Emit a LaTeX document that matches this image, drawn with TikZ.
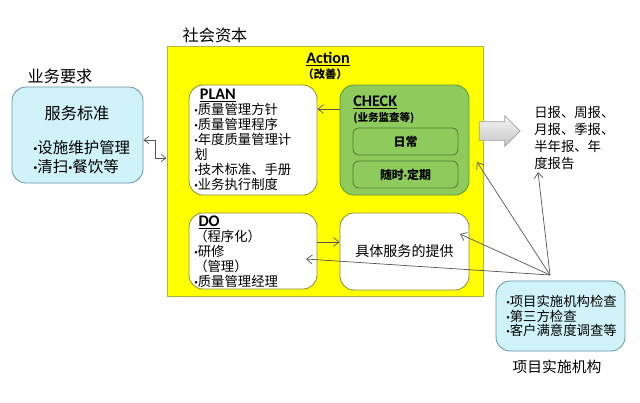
\documentclass[tikz,border=0pt]{standalone}
\usepackage{fontspec}
\setmainfont{Noto Sans CJK SC}
\newfontfamily\latinfont{Carlito}
\newcommand{\bul}{{\latinfont\bfseries ·}}
\usetikzlibrary{arrows.meta,positioning,calc,shapes.arrows}
\definecolor{capyellow}{HTML}{FFFF00}
\definecolor{capedge}{HTML}{B4B43C}
\definecolor{reqcyan}{HTML}{CFF3F8}
\definecolor{reqedge}{HTML}{6A97A6}
\definecolor{chkgreen}{HTML}{8FCB5C}
\definecolor{chkedge}{HTML}{5E9440}
\definecolor{stepedge}{HTML}{8C8C3C}
\definecolor{linegray}{HTML}{555555}

\begin{document}
\begin{tikzpicture}[
  x=0.25mm,y=-0.25mm,
  font=\fontsize{9}{11}\selectfont,
  box/.style={draw,rounded corners=3.5mm,line width=0.6pt,inner sep=0pt},
  reqbox/.style={box,fill=reqcyan,draw=reqedge},
  stepbox/.style={box,fill=white,draw=stepedge,minimum width=32mm},
  chkbox/.style={box,fill=chkgreen,draw=chkedge,minimum width=32.25mm},
  subbox/.style={box,rounded corners=1.5mm,fill=chkgreen,draw=chkedge!85!black,minimum width=26.25mm},
  heading/.style={font=\latinfont\bfseries\fontsize{11.5}{13}\selectfont},
  flow/.style={-{Straight Barb[length=1.4mm,width=2.2mm]},line width=0.5pt,draw=linegray},
  link/.style={{Straight Barb[length=1.2mm,width=1.8mm]}-{Straight Barb[length=1.2mm,width=1.8mm]},line width=0.5pt,draw=linegray}
]
  \useasboundingbox (0,0) rectangle (640,402);

  \node[font=\fontsize{11.5}{13}\selectfont] (reqttl) at (60,76) {业务要求};
  \node[reqbox,minimum width=32.75mm,minimum height=24mm] (svc) at (77.5,135) {};
  \node[font=\fontsize{11.5}{13}\selectfont] (svcttl) at (77,113) {服务标准};
  \node[anchor=west,align=left,inner sep=0pt,font=\fontsize{11}{13}\selectfont] (svcitems) at (33,157) {\bul 设施维护管理\\\bul 清扫\bul 餐饮等};

  \node[font=\fontsize{11.5}{13}\selectfont] (capttl) at (215,35) {社会资本};
  \node[draw=capedge,fill=capyellow,line width=0.7pt,minimum width=79mm,minimum height=62.5mm] (cap) at (325,171) {};
  \node[heading] (act) at (328,59) {\underline{Action}};
  \node[font=\bfseries\fontsize{8}{9}\selectfont] (actsub) at (325,74) {（改善）};

  \node[stepbox,minimum height=27.5mm] (plan) at (253,140) {};
  \node[anchor=west,align=left,inner sep=0pt,font=\fontsize{9.5}{10.7}\selectfont] (plantxt) at (194,140)
    {\hspace*{4pt}{\latinfont\bfseries\fontsize{11.5}{10.7}\selectfont\underline{PLAN}}\\\bul 质量管理方针\\\bul 质量管理程序\\\bul 年度质量管理计\\划\\\bul 技术标准、手册\\\bul 业务执行制度};

  \node[chkbox,minimum height=27.5mm] (check) at (404.5,140) {};
  \node[anchor=west,align=left,inner sep=0pt] (chktxt) at (353,110)
    {{\latinfont\bfseries\fontsize{11.5}{11.4}\selectfont\underline{CHECK}}\\{\bfseries\fontsize{7.5}{11.4}\selectfont(业务监查等)}};
  \node[subbox,minimum height=6.75mm,font=\bfseries\fontsize{8.5}{10}\selectfont] (daily) at (405.5,141.5) {日常};
  \node[subbox,minimum height=6.75mm,font=\bfseries\fontsize{8.5}{10}\selectfont] (periodic) at (405.5,174.5) {随时\bul 定期};

  \node[stepbox,minimum height=19mm] (do) at (253,251) {};
  \node[anchor=west,align=left,inner sep=0pt,font=\fontsize{9.5}{10.7}\selectfont] (dotxt) at (194,252)
    {\hspace*{3pt}{\latinfont\bfseries\fontsize{11.5}{10.7}\selectfont\underline{DO}}\\（程序化）\\\bul 研修\\（管理）\\\bul 质量管理经理};

  \node[stepbox,minimum width=32.25mm,minimum height=19.25mm,font=\fontsize{10}{12}\selectfont] (prov) at (404.5,251.5) {具体服务的提供};

  \node[single arrow,draw=gray!75,top color=gray!8,bottom color=gray!45,line width=0.5pt,
    inner xsep=0pt,inner ysep=2.25mm,single arrow head extend=1.5mm,minimum height=10.25mm] (out) at (495,131) {};
  \node[anchor=west,align=left,inner sep=0pt,font=\fontsize{9.5}{11.9}\selectfont] (reports) at (534,138)
    {日报、周报、\\月报、季报、\\半年报、年\\度报告};

  \node[reqbox,minimum width=32.25mm,minimum height=17.5mm] (insp) at (560.5,316) {};
  \node[anchor=west,align=left,inner sep=0pt,font=\fontsize{9.5}{10.4}\selectfont] (insptxt) at (506,316)
    {\bul 项目实施机构检查\\\bul 第三方检查\\\bul 客户满意度调查等};
  \node[font=\fontsize{10.5}{12}\selectfont] (inspttl) at (557,367) {项目实施机构};

  \draw[link] (svc.east |- 0,140) -- (155,140) |- (cap.west |- 0,158);
  \draw[flow] (check.west |- 0,109) -- (plan.east |- 0,109);
  \draw[flow] (do.east |- 0,242) -- (prov.west |- 0,242);

  \coordinate (hub) at (550,275);
  \coordinate (capin) at (477,162);
  \coordinate (repin) at (538,172);
  \coordinate (provin) at (460,234);
  \coordinate (doin) at (306,259);
  \draw[flow] (hub) -- (capin);
  \draw[flow] (hub) -- (repin);
  \draw[flow] (hub) -- (provin);
  \draw[flow] (hub) -- (doin);
\end{tikzpicture}
\end{document}
